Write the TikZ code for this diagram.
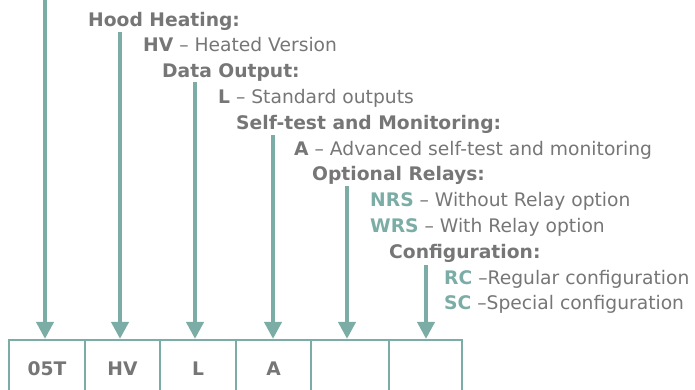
\documentclass[tikz,border=0pt]{standalone}
\usepackage{fontspec}
\setmainfont{DejaVu Sans}
\usetikzlibrary{arrows.meta}
\definecolor{codeteal}{RGB}{123,173,166}
\definecolor{textgray}{RGB}{118,118,118}
\tikzstyle{cell} = [draw=codeteal, line width=2.2pt, minimum height=58pt, inner sep=0pt, font=\bfseries, text=textgray]
\tikzstyle{entry} = [anchor=base west, inner sep=0pt, text=textgray]
\tikzstyle{feed} = [draw=codeteal, line width=4pt, -{Triangle[width=17pt,length=17pt]}]
\newcommand{\codekey}[1]{\textcolor{codeteal}{\textbf{#1}}}

\begin{document}
\fontsize{18.7}{21}\selectfont
\begin{tikzpicture}[x=1pt, y=-1pt]
      \clip (0, 0) rectangle (695, 389);
      \node[entry, font=\bfseries] (hood) at (88, 26) {Hood Heating:};
      \node[entry] (hv) at (143, 51.8) {\textbf{HV} – Heated Version};
      \node[entry, font=\bfseries] (data) at (162, 77.6) {Data Output:};
      \node[entry] (std) at (218, 103.4) {\textbf{L} – Standard outputs};
      \node[entry, font=\bfseries] (self) at (236, 129.2) {Self-test and Monitoring:};
      \node[entry] (adv) at (294, 155) {\textbf{A} – Advanced self-test and monitoring};
      \node[entry, font=\bfseries] (relays) at (312, 180.8) {Optional Relays:};
      \node[entry] (nrs) at (370, 206.6) {\codekey{NRS} – Without Relay option};
      \node[entry] (wrs) at (370, 232.4) {\codekey{WRS} – With Relay option};
      \node[entry, font=\bfseries] (config) at (389, 258.2) {Configuration:};
      \node[entry] (rc) at (444, 284) {\codekey{RC} –Regular configuration};
      \node[entry] (sc) at (444, 309.8) {\codekey{SC} –Special configuration};

      \node[cell, minimum width=76pt] (c1) at (47, 369) {05T};
      \node[cell, minimum width=75pt] (c2) at (122.5, 369) {HV};
      \node[cell, minimum width=76pt] (c3) at (198, 369) {L};
      \node[cell, minimum width=75pt] (c4) at (273.5, 369) {A};
      \node[cell, minimum width=78pt] (c5) at (350, 369) {};
      \node[cell, minimum width=73pt] (c6) at (425.5, 369) {};

      \coordinate (top1) at (45, -5);
      \coordinate (top2) at (120, 32);
      \coordinate (top3) at (195, 82);
      \coordinate (top4) at (273, 135);
      \coordinate (top5) at (347, 186);
      \coordinate (top6) at (426, 265);

      \draw[feed] (top1) -- (top1 |- c1.north);
      \draw[feed] (top2) -- (top2 |- c2.north);
      \draw[feed] (top3) -- (top3 |- c3.north);
      \draw[feed] (top4) -- (top4 |- c4.north);
      \draw[feed] (top5) -- (top5 |- c5.north);
      \draw[feed] (top6) -- (top6 |- c6.north);
    \end{tikzpicture}
\end{document}
